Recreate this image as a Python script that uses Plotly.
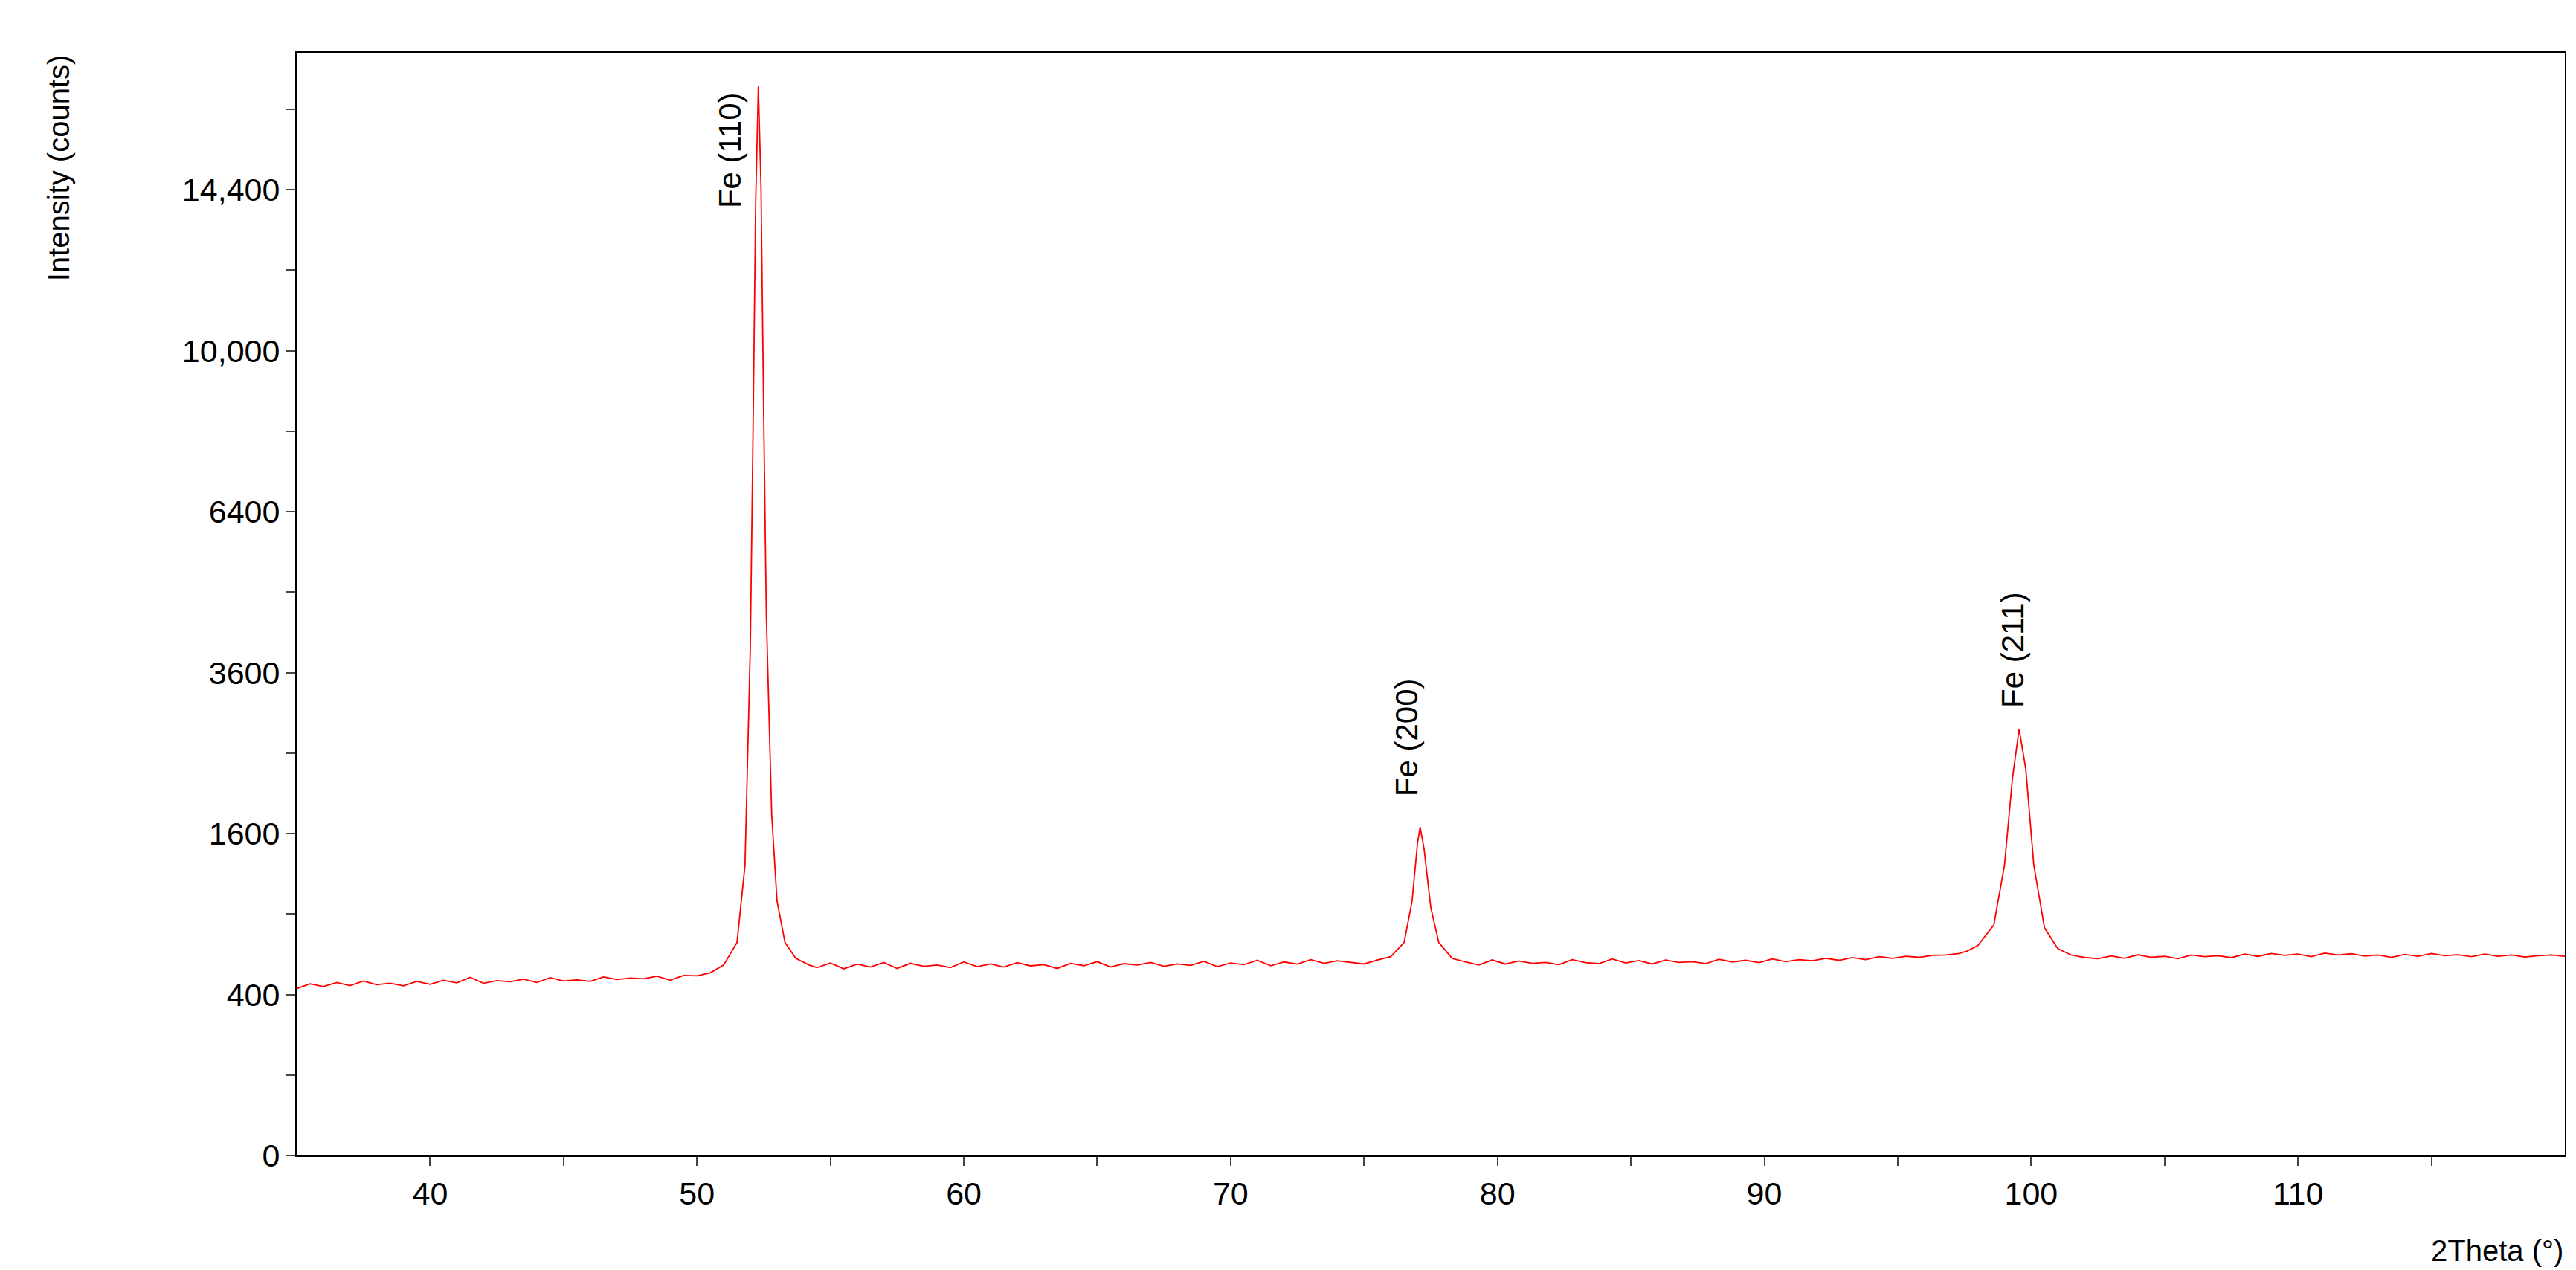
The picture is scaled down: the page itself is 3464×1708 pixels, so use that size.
import plotly.graph_objects as go
import numpy as np

x_bg1 = [35.0,35.5,36.0,36.5,37.0,37.5,38.0,38.5,39.0,39.5,40.0,40.5,41.0,41.5,42.0,42.5,43.0,43.5,44.0,44.5,45.0,45.5,46.0,46.5,47.0,47.5,48.0,48.5,49.0,49.5,50.0,50.5]
y_bg1 = [430,455,440,462,445,470,450,458,444,468,452,474,460,490,458,472,466,480,462,488,470,476,468,492,478,486,482,496,474,500,498,515]
x_p110 = [51.0,51.5,51.8,52.0,52.1,52.2,52.3,52.4,52.5,52.6,52.8,53.0,53.3,53.7,54.2]
y_p110 = [560,700,1300,4000,8000,14000,17640,14500,8500,4500,1800,1000,700,600,560]
x_bg2 = [54.5,55.0,55.5,56.0,56.5,57.0,57.5,58.0,58.5,59.0,59.5,60.0,60.5,61.0,61.5,62.0,62.5,63.0,63.5,64.0,64.5,65.0,65.5,66.0,66.5,67.0,67.5,68.0,68.5,69.0,69.5,70.0,70.5,71.0,71.5,72.0,72.5,73.0,73.5,74.0,74.5,75.0,75.5]
y_bg2 = [545,572,538,565,548,575,540,570,552,560,545,578,550,566,548,574,555,562,540,570,556,580,548,568,560,575,552,566,558,582,550,572,562,588,556,578,565,592,570,585,574,566,590]
x_p200 = [76.0,76.5,76.8,77.0,77.1,77.25,77.5,77.8,78.3]
y_p200 = [610,700,1000,1500,1665,1450,950,700,600]
x_bg3 = [78.8,79.3,79.8,80.3,80.8,81.3,81.8,82.3,82.8,83.3,83.8,84.3,84.8,85.3,85.8,86.3,86.8,87.3,87.8,88.3,88.8,89.3,89.8,90.3,90.8,91.3,91.8,92.3,92.8,93.3,93.8,94.3,94.8,95.3,95.8,96.3,96.8,97.3,97.6]
y_bg3 = [578,560,590,566,584,570,575,562,592,574,568,596,572,586,566,590,575,580,568,594,578,588,574,596,580,592,585,600,588,604,592,610,600,612,606,618,620,630,645]
x_p211 = [98.0,98.6,99.0,99.3,99.55,99.8,100.1,100.5,101.0,101.5]
y_p211 = [680,820,1300,2200,2809,2300,1300,800,660,620]
x_bg4 = [102.0,102.5,103.0,103.5,104.0,104.5,105.0,105.5,106.0,106.5,107.0,107.5,108.0,108.5,109.0,109.5,110.0,110.5,111.0,111.5,112.0,112.5,113.0,113.5,114.0,114.5,115.0,115.5,116.0,116.5,117.0,117.5,118.0,118.5,119.0,119.5,120.0]
y_bg4 = [605,598,615,600,622,606,612,598,620,610,616,604,626,612,630,618,626,610,632,620,628,614,620,606,624,612,630,616,622,610,626,612,620,608,616,620,612]

two_theta = x_bg1 + x_p110 + x_bg2 + x_p200 + x_bg3 + x_p211 + x_bg4
counts = y_bg1 + y_p110 + y_bg2 + y_p200 + y_bg3 + y_p211 + y_bg4

y_tick_vals = [0, 400, 1600, 3600, 6400, 10000, 14400]
y_tick_text = ["0", "400", "1600", "3600", "6400", "10,000", "14,400"]
labels = ["Fe (110)", "Fe (200)", "Fe (211)"]
label_x = [51.25, 76.6, 99.3]
label_y = [15600, 2700, 3950]

fig = go.Figure(go.Scatter(x=two_theta, y=np.sqrt(counts), mode="lines",
                           line=dict(color="#ff0000", width=1.8)))
for t, x, y in zip(labels, label_x, label_y):
    fig.add_annotation(x=x, y=np.sqrt(y), text=t, showarrow=False, textangle=-90,
                       font=dict(size=42, color="black"))
fig.add_annotation(xref="paper", yref="paper", x=1.0, y=-0.07, xanchor="right", yanchor="top",
                   text="2Theta (°)", showarrow=False, font=dict(size=40, color="black"))
fig.add_annotation(xref="paper", yref="paper", x=-0.105, y=1.0, xanchor="center", yanchor="top",
                   text="Intensity (counts)", textangle=-90, showarrow=False, font=dict(size=40, color="black"))
fig.update_layout(width=3464, height=1708, plot_bgcolor="white", paper_bgcolor="white",
                  margin=dict(l=391, r=23, t=63, b=162), showlegend=False,
                  font=dict(family="Liberation Sans, Arial", size=43, color="black"))
fig.update_xaxes(range=[35, 120], tickvals=[40,50,60,70,80,90,100,110], ticks="outside", ticklen=12,
                 tickwidth=2, showline=True, linecolor="black", linewidth=2, mirror=True, showgrid=False,
                 minor=dict(tickvals=[45,55,65,75,85,95,105,115], ticks="outside", ticklen=12, tickwidth=2))
fig.update_yaxes(range=[0, 137], tickvals=np.sqrt(y_tick_vals), ticktext=y_tick_text, ticks="outside",
                 ticklen=12, tickwidth=2, showline=True, linecolor="black", linewidth=2, mirror=True,
                 showgrid=False, zeroline=False,
                 minor=dict(tickvals=[10,30,50,70,90,110,130], ticks="outside", ticklen=12, tickwidth=2))
fig.write_html("out.html")
